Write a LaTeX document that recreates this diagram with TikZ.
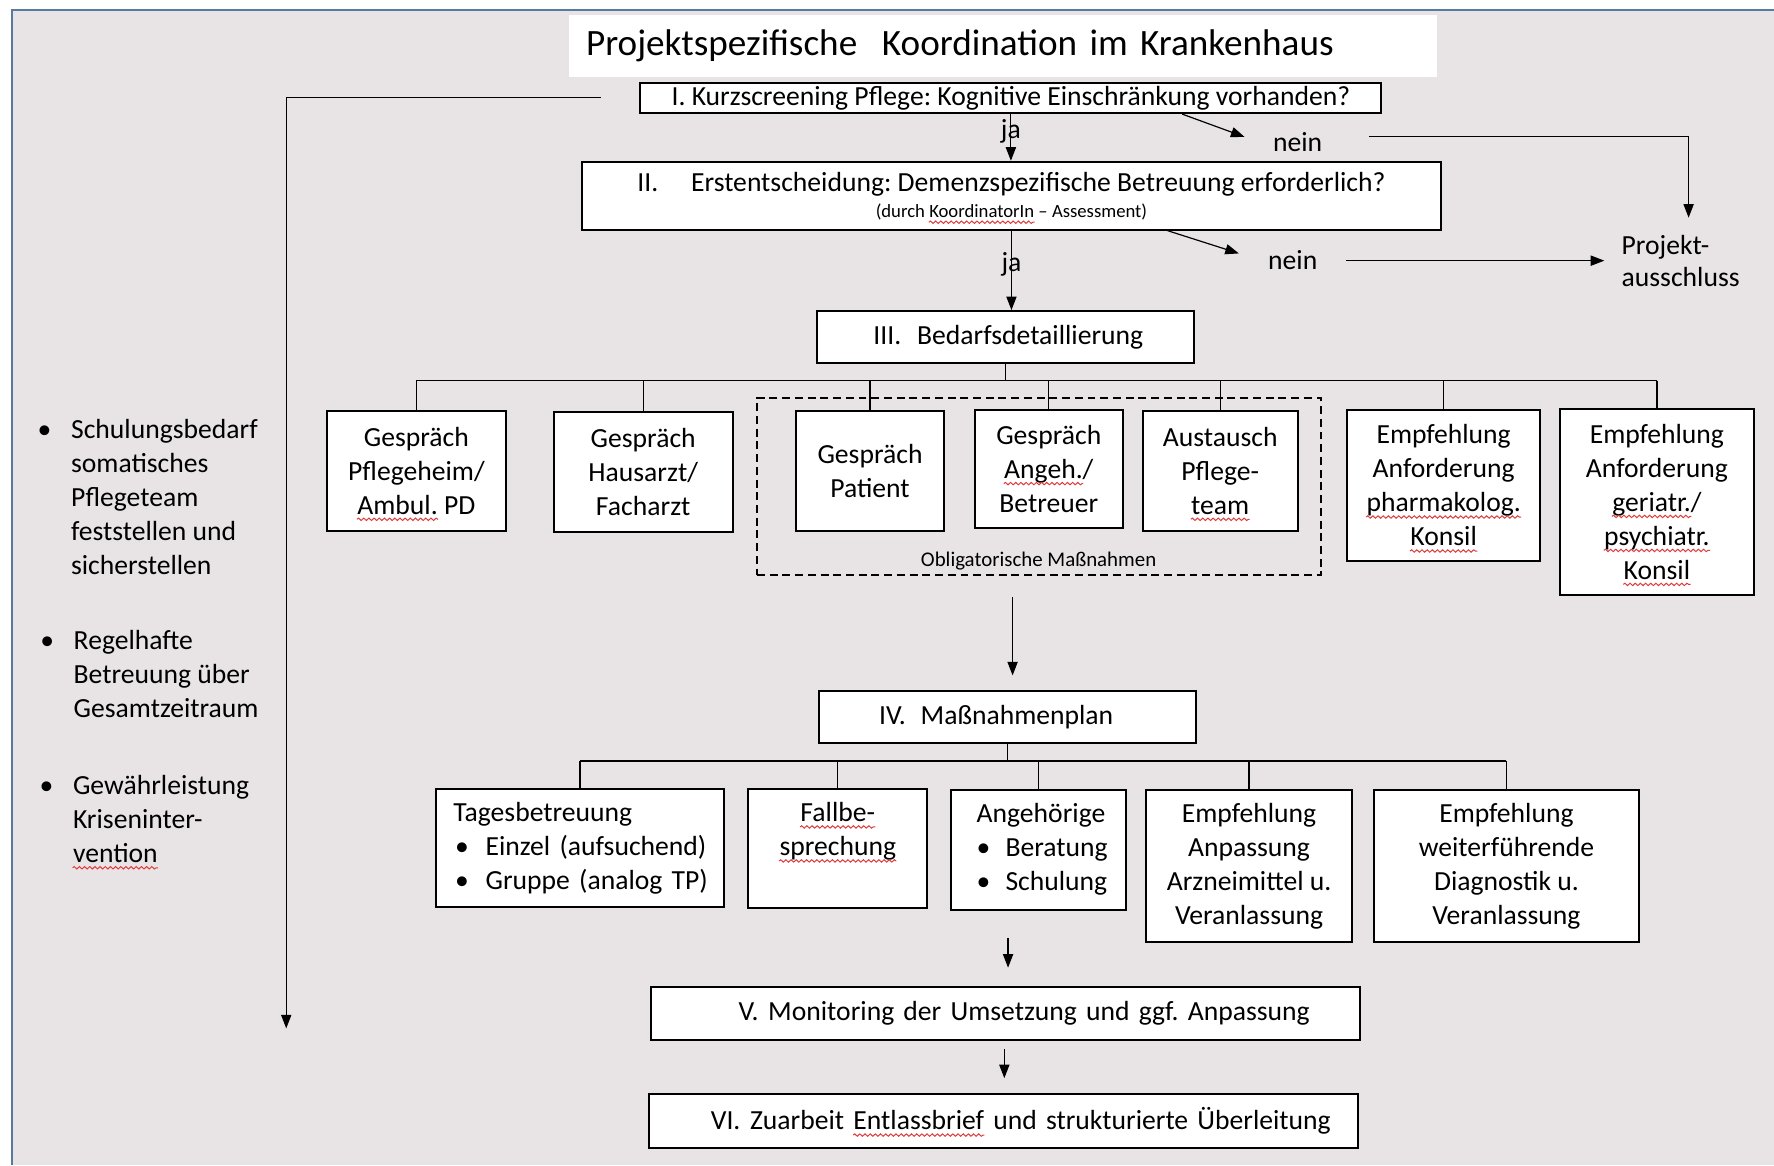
\documentclass[tikz,border=0pt]{standalone}
\usepackage{fontspec}
\setmainfont{Carlito}
\usetikzlibrary{arrows.meta,decorations.pathmorphing}

\definecolor{slidegray}{RGB}{232,228,229}
\definecolor{frameblue}{RGB}{88,122,158}
\definecolor{spellred}{RGB}{222,60,60}

\frenchspacing
\newcommand\mainfs{\fontsize{13.9}{17.1}\selectfont}
\newcommand\bul{\makebox[0.57cm][l]{\hspace{0.03cm}\textbullet}}
\newcommand\redwave[1]{\tikz[baseline=(w.base)]{\node[wavetext] (w) {#1};
    \draw[overlay, spellred, line width=0.5pt, decorate, decoration={snake, amplitude=0.6pt, segment length=2.6pt}]
        ([yshift=-2.6pt]w.base west) -- ([yshift=-2.6pt]w.base east);}}

\tikzset{
  every node/.style={font=\mainfs},
  box/.style={draw=black, fill=white, line width=1pt, align=center, inner sep=0pt},
  wavetext/.style={inner sep=0pt, font=, text width=, minimum width=0pt, minimum height=0pt,
    align=none, draw=none, fill=none, anchor=center},
  wire/.style={line width=0.6pt},
  arr/.style={line width=0.6pt, -{Triangle[length=0.24cm,width=0.18cm]}},
}

\begin{document}
\begin{tikzpicture}[x=0.02cm, y=-0.02cm]
    \useasboundingbox (0,0) rectangle (1568,1030);

    % background
    \fill[slidegray] (11,9) rectangle (1568,1030);
    \draw[frameblue, line width=1pt] (1568,9) -- (11,9) -- (11,1030);

    % title
    \node[fill=white, minimum width=15.34cm, minimum height=1.1cm, text width=14.74cm,
        inner xsep=0.3cm, align=left, font=\fontsize{18.7}{22}\selectfont] (titel) at (886.5,40.5)
        {Projektspezifische~ Koordination im Krankenhaus};

    % steps I - III
    \node[box, minimum width=13.1cm, minimum height=0.54cm] (k1) at (893.5,86.5)
        {I. Kurzscreening Pflege: Kognitive Einschränkung vorhanden?};
    \node[box, minimum width=15.2cm, minimum height=1.2cm] (k2) at (894,173)
        {II.\hspace{0.58cm}Erstentscheidung: Demenzspezifische Betreuung erforderlich?\\[-4pt]
         {\fontsize{9.4}{11}\selectfont (durch \redwave{KoordinatorIn} -- Assessment)}};
    \node[box, minimum width=6.66cm, minimum height=0.92cm, text width=6.46cm, inner xsep=0.1cm,
        align=left] (k3) at (888.5,298) {\hspace*{0.9cm}III.\hspace{0.28cm}Bedarfsdetaillierung};

    \draw[arr] (k1.south) -- node[pos=0.37, inner sep=0pt] (ja1) {ja} (k1.south |- k2.north);
    \draw[arr] (k2.south) -- node[pos=0.42, inner sep=0pt] (ja2) {ja} (k2.south |- k3.north);

    % nein -> Projektausschluss
    \node (nein1) at (1147,126) {nein};
    \node (nein2) at (1142.6,230) {nein};
    \node[anchor=west, align=left, inner xsep=0.3cm, inner ysep=0.1cm,
        font=\fontsize{13.9}{16}\selectfont] (projekt) at (1418,230.4) {Projekt-\\ausschluss};
    \coordinate (n1tip) at (1100,121);
    \coordinate (n2tip) at (1095,224);
    \coordinate (n1out) at (1210,121);
    \coordinate (n2out) at (1190,230.4);
    \draw[arr] ([xshift=3.03cm]k1.south) -- (n1tip);
    \draw[arr] ([xshift=2.76cm]k2.south) -- (n2tip);
    \draw[arr] (n1out) -| ([xshift=0.14cm, yshift=0.2cm]projekt.north);
    \draw[arr] (n2out) -- (projekt.west);

    % left side line
    \coordinate (links) at (253,909);
    \draw[arr] ([xshift=-0.68cm]k1.west) -| (links);

    % Bedarfsdetaillierung
    \node[draw, dashed, line width=1pt, dash pattern=on 4pt off 2.4pt, minimum width=9.98cm,
        minimum height=3.12cm] (obl) at (918.5,430) {};
    \node[font=\fontsize{10.5}{12}\selectfont] (obltext) at (918,496) {Obligatorische Maßnahmen};

    \node[box, minimum width=3.16cm, minimum height=2.12cm] (b1) at (368,416)
        {Gespräch\\Pflegeheim/\\\redwave{Ambul.} PD};
    \node[box, minimum width=3.16cm, minimum height=2.12cm] (b2) at (568.5,417)
        {Gespräch\\Hausarzt/\\Facharzt};
    \node[box, minimum width=2.62cm, minimum height=2.12cm] (b3) at (769,416)
        {Gespräch\\Patient};
    \node[box, minimum width=2.62cm, minimum height=2.1cm] (b4) at (927,414.5)
        {Gespräch\\\redwave{Angeh.}/\\Betreuer};
    \node[box, minimum width=2.74cm, minimum height=2.12cm] (b5) at (1078.5,416)
        {Austausch\\Pflege-\\\redwave{team}};
    \node[box, minimum width=3.42cm, minimum height=2.68cm] (b6) at (1276,429)
        {Empfehlung\\Anforderung\\\redwave{pharmakolog.}\\\redwave{Konsil}};
    \node[box, minimum width=3.42cm, minimum height=3.28cm] (b7) at (1464.5,443.5)
        {Empfehlung\\Anforderung\\\redwave{geriatr.}/\\\redwave{psychiatr.}\\\redwave{Konsil}};

    \coordinate (bus3) at (888,336.5);
    \draw[wire] (k3.south) -- (k3.south |- bus3);
    \draw[wire] (b1.north |- bus3) -- (b7.north |- bus3);
    \foreach \b in {b1,b2,b3,b4,b5,b6,b7}
        \draw[wire] (\b.north |- bus3) -- (\b.north);

    \coordinate (m4a) at (895,527.7);
    \coordinate (m4b) at (895,597);
    \draw[arr] (m4a) -- (m4b);

    % Massnahmenplan
    \node[box, minimum width=6.66cm, minimum height=0.92cm, text width=6.46cm, inner xsep=0.1cm,
        align=left] (k4) at (890.5,634) {\hspace*{0.96cm}IV.\hspace{0.26cm}Maßnahmenplan};

    \node[box, minimum width=5.1cm, minimum height=2.1cm, text width=4.9cm, inner xsep=0.1cm,
        align=left] (c1) at (512.7,749.5)
        {\hspace*{0.21cm}Tagesbetreuung\\\hspace*{0.21cm}\bul Einzel (aufsuchend)\\\hspace*{0.21cm}\bul Gruppe (analog TP)};
    \node[box, minimum width=3.16cm, minimum height=2.12cm] (c2) at (740.5,750)
        {\redwave{Fallbe-}\\\redwave{sprechung}\\\vphantom{Xg}};
    \node[box, minimum width=3.09cm, minimum height=2.12cm, text width=2.89cm, inner xsep=0.1cm,
        align=left] (c3) at (918,751)
        {\hspace*{0.35cm}Angehörige\\\hspace*{0.35cm}\makebox[0.51cm][l]{\textbullet}Beratung\\\hspace*{0.35cm}\makebox[0.51cm][l]{\textbullet}Schulung};
    \node[box, minimum width=3.64cm, minimum height=2.7cm] (c4) at (1104,765.5)
        {Empfehlung\\Anpassung\\Arzneimittel u.\\Veranlassung};
    \node[box, minimum width=4.68cm, minimum height=2.7cm] (c5) at (1331.5,765.5)
        {Empfehlung\\weiterführende\\Diagnostik u.\\Veranlassung};

    \coordinate (bus4) at (899,672.6);
    \draw[wire] (k4.south) -- (k4.south |- bus4);
    \draw[wire] (c1.north |- bus4) -- (c5.north |- bus4);
    \foreach \c in {c1,c2,c3,c4,c5}
        \draw[wire] (\c.north |- bus4) -- (\c.north);

    % steps V and VI
    \coordinate (m5a) at (891,829.4);
    \coordinate (m5b) at (891,855.3);
    \draw[arr] (m5a) -- (m5b);

    \node[box, minimum width=12.54cm, minimum height=0.94cm, text width=12.34cm, inner xsep=0.1cm,
        align=left] (k5) at (888.4,895.5)
        {\hspace*{1.46cm}V.\hspace{0.17cm}Monitoring der Umsetzung und ggf. Anpassung};

    \coordinate (m6a) at (887.7,927.5);
    \coordinate (m6b) at (887.7,953);
    \draw[arr] (m6a) -- (m6b);

    \node[box, minimum width=12.55cm, minimum height=0.96cm, text width=12.35cm, inner xsep=0.1cm,
        align=left] (k6) at (887,991)
        {\hspace*{1.0cm}VI.\hspace{0.17cm}Zuarbeit \redwave{Entlassbrief} und strukturierte Überleitung};

    % notes on the left
    \node[anchor=west, align=left, inner xsep=0pt] (hinw1) at (62.5,439)
        {\llap{\makebox[0.59cm][l]{\textbullet}}Schulungsbedarf\\somatisches\\Pflegeteam\\feststellen und\\sicherstellen};
    \node[anchor=west, align=left, inner xsep=0pt] (hinw2) at (64.8,596)
        {\llap{\makebox[0.59cm][l]{\textbullet}}Regelhafte\\Betreuung über\\Gesamtzeitraum};
    \node[anchor=west, align=left, inner xsep=0pt] (hinw3) at (64.2,724)
        {\llap{\makebox[0.59cm][l]{\textbullet}}Gewährleistung\\Kriseninter-\\\redwave{vention}};

\end{tikzpicture}
\end{document}
